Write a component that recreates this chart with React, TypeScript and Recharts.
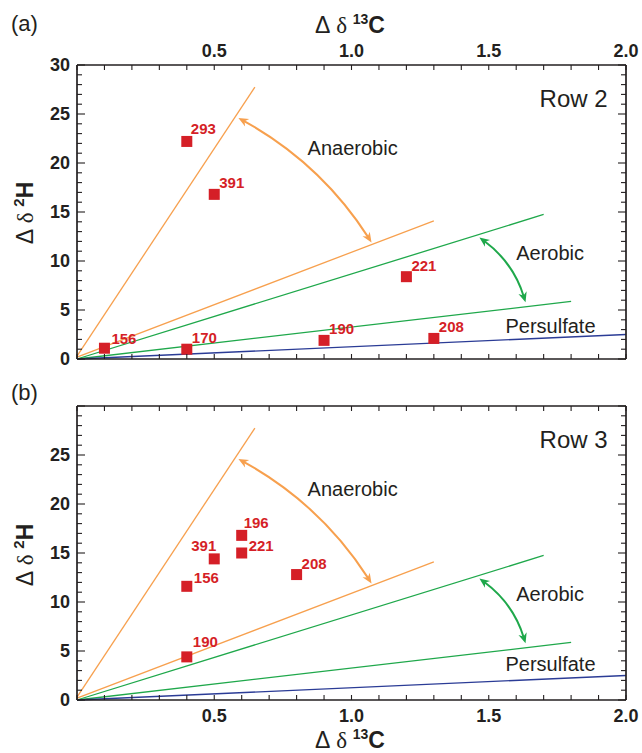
import React from 'react';
import { ComposedChart, XAxis, YAxis, Scatter, ReferenceLine, ReferenceDot } from 'recharts';

// axis ticks
const X_TICKS = [0, 0.1, 0.2, 0.3, 0.4, 0.5, 0.6, 0.7, 0.8, 0.9, 1.0, 1.1, 1.2, 1.3, 1.4, 1.5, 1.6, 1.7, 1.8, 1.9, 2.0];
const X_LABELS = [0.5, 1.0, 1.5, 2.0];
const Y_TICKS = [0, 1, 2, 3, 4, 5, 6, 7, 8, 9, 10, 11, 12, 13, 14, 15, 16, 17, 18, 19, 20, 21, 22, 23, 24, 25, 26, 27, 28, 29, 30];
const Y_LABELS_A = [0, 5, 10, 15, 20, 25, 30];
const Y_LABELS_B = [0, 5, 10, 15, 20, 25];

// panel (a), Row 2
const samplesA = ['156', '170', '293', '391', '190', '208', '221'];
const dC13A = [0.1, 0.4, 0.4, 0.5, 0.9, 1.3, 1.2];
const dH2A = [1.1, 1.0, 22.2, 16.8, 1.9, 2.1, 8.4];

// panel (b), Row 3
const samplesB = ['391', '156', '221', '196', '208', '190'];
const dC13B = [0.5, 0.4, 0.6, 0.6, 0.8, 0.4];
const dH2B = [14.4, 11.6, 15.0, 16.8, 12.8, 4.4];

// degradation trend lines, [start, end] as [dC, dH]
const anaerobicHigh = [[0, 0.3], [0.648, 27.75]];
const anaerobicLow = [[0, 0.2], [1.3, 14.1]];
const aerobicHigh = [[0, 0], [1.7, 14.75]];
const aerobicLow = [[0, 0], [1.8, 5.87]];
const persulfateLine = [[0, 0], [2.0, 2.5]];

// double arrows between the line pairs
const anaerobicArrow = [[0.588, 24.6], [1.073, 11.9]];
const aerobicArrow = [[1.466, 12.4], [1.634, 5.8]];

const INK = '#231f20';
const ORANGE = '#f7a04e';
const GREEN = '#1fa84b';
const BLUE = '#2b3c96';
const RED = '#d51f27';
const SANS = '"Liberation Sans", Arial, Helvetica, sans-serif';
const SERIF = '"Liberation Serif", "Times New Roman", serif';

const toPoints = (names: string[], xs: number[], ys: number[]) =>
  names.map((n, i) => ({ x: xs[i], y: ys[i], label: n }));

const seg = (p: number[][]) => [{ x: p[0][0], y: p[0][1] }, { x: p[1][0], y: p[1][1] }];

function XTick(props: any) {
  const { x, y, payload, side, showLabel } = props;
  const v = payload.value;
  const dir = side === 'top' ? 1 : -1;
  return (
    <g>
      <line x1={x} y1={y} x2={x} y2={y + dir * 5} stroke={INK} strokeWidth={1.1} />
      {showLabel && X_LABELS.includes(v) && (
        <text x={x} y={side === 'top' ? y - 8 : y + 22} textAnchor="middle" fontFamily={SANS} fontWeight="bold" fontSize={18} fill={INK}>
          {v.toFixed(1)}
        </text>
      )}
    </g>
  );
}

function YTick(props: any) {
  const { x, y, payload, side, labels } = props;
  const v = payload.value;
  const len = v % 5 === 0 ? 8 : 5;
  const dir = side === 'left' ? 1 : -1;
  return (
    <g>
      <line x1={x} y1={y} x2={x + dir * len} y2={y} stroke={INK} strokeWidth={1.1} />
      {labels && labels.includes(v) && (
        <text x={x - 7} y={y} dy="0.36em" textAnchor="end" fontFamily={SANS} fontWeight="bold" fontSize={18} fill={INK}>
          {v}
        </text>
      )}
    </g>
  );
}

function arrowHead(tx: number, ty: number, fx: number, fy: number) {
  const l = Math.hypot(tx - fx, ty - fy);
  const ax = (tx - fx) / l;
  const ay = (ty - fy) / l;
  const nx = -ay;
  const ny = ax;
  const L = 10;
  const W = 4.3;
  const bx = tx - ax * L;
  const by = ty - ay * L;
  const kx = tx - ax * L * 0.7;
  const ky = ty - ay * L * 0.7;
  return `M${tx},${ty} L${bx + nx * W},${by + ny * W} L${kx},${ky} L${bx - nx * W},${by - ny * W} Z`;
}

function ArcArrow(props: any) {
  const { x1, y1, x2, y2, bend, color } = props;
  const dx = x2 - x1;
  const dy = y2 - y1;
  const len = Math.hypot(dx, dy);
  const cx = (x1 + x2) / 2 + (bend * dy) / len;
  const cy = (y1 + y2) / 2 - (bend * dx) / len;
  const d1 = Math.hypot(cx - x1, cy - y1);
  const d2 = Math.hypot(cx - x2, cy - y2);
  const sx = x1 + ((cx - x1) / d1) * 6;
  const sy = y1 + ((cy - y1) / d1) * 6;
  const ex = x2 + ((cx - x2) / d2) * 6;
  const ey = y2 + ((cy - y2) / d2) * 6;
  return (
    <g>
      <path d={`M${sx},${sy} Q${cx},${cy} ${ex},${ey}`} fill="none" stroke={color} strokeWidth={2} />
      <path d={arrowHead(x1, y1, cx, cy)} fill={color} />
      <path d={arrowHead(x2, y2, cx, cy)} fill={color} />
    </g>
  );
}

// label nudges around the squares (pixels)
const nudgeA: Record<string, [number, number, string]> = {
  '156': [7, -4, 'start'],
  '293': [4, -7, 'start'],
};
const nudgeB: Record<string, [number, number, string]> = {
  '391': [2, -8, 'end'],
  '156': [7, -3, 'start'],
  '221': [7, -2, 'start'],
  '196': [2, -7, 'start'],
  '190': [6, -10, 'start'],
};

function Note(props: any) {
  const { cx, cy, text, size, anchor } = props;
  return (
    <text x={cx} y={cy} fontFamily={SANS} fontSize={size} fill={INK} textAnchor={anchor || 'start'}>
      {text}
    </text>
  );
}

function Panel(props: any) {
  const { points, yLabels, labelSide, margin, height, nudge, row, persulfateY } = props;
  const otherSide = labelSide === 'top' ? 'bottom' : 'top';
  return (
    <ComposedChart width={642} height={height} margin={margin}>
      <XAxis
        xAxisId={0}
        type="number"
        dataKey="x"
        domain={[0, 2]}
        ticks={X_TICKS}
        interval={0}
        allowDataOverflow
        orientation={labelSide}
        height={1}
        tickSize={0}
        tickMargin={0}
        tickLine={false}
        axisLine={{ stroke: INK, strokeWidth: 1.7 }}
        tick={(p: any) => <XTick {...p} side={labelSide} showLabel />}
      />
      <XAxis
        xAxisId="m"
        type="number"
        dataKey="x"
        domain={[0, 2]}
        ticks={X_TICKS}
        interval={0}
        allowDataOverflow
        orientation={otherSide}
        height={1}
        tickSize={0}
        tickMargin={0}
        tickLine={false}
        axisLine={{ stroke: INK, strokeWidth: 1.7 }}
        tick={(p: any) => <XTick {...p} side={otherSide} />}
      />
      <YAxis
        yAxisId={0}
        type="number"
        domain={[0, 30]}
        ticks={Y_TICKS}
        interval={0}
        allowDataOverflow
        width={1}
        tickSize={0}
        tickMargin={0}
        tickLine={false}
        axisLine={{ stroke: INK, strokeWidth: 1.7 }}
        tick={(p: any) => <YTick {...p} side="left" labels={yLabels} />}
      />
      <YAxis
        yAxisId="r"
        orientation="right"
        type="number"
        domain={[0, 30]}
        ticks={Y_TICKS}
        interval={0}
        allowDataOverflow
        width={1}
        tickSize={0}
        tickMargin={0}
        tickLine={false}
        axisLine={{ stroke: INK, strokeWidth: 1.7 }}
        tick={(p: any) => <YTick {...p} side="right" />}
      />
      <ReferenceLine segment={seg(anaerobicHigh)} stroke={ORANGE} strokeWidth={1.3} ifOverflow="visible" />
      <ReferenceLine segment={seg(anaerobicLow)} stroke={ORANGE} strokeWidth={1.3} ifOverflow="visible" />
      <ReferenceLine segment={seg(aerobicHigh)} stroke={GREEN} strokeWidth={1.3} ifOverflow="visible" />
      <ReferenceLine segment={seg(aerobicLow)} stroke={GREEN} strokeWidth={1.3} ifOverflow="visible" />
      <ReferenceLine segment={seg(persulfateLine)} stroke={BLUE} strokeWidth={1.3} ifOverflow="visible" />
      <ReferenceLine
        segment={seg(anaerobicArrow)}
        ifOverflow="visible"
        shape={(p: any) => <ArcArrow {...p} bend={23} color={ORANGE} />}
      />
      <ReferenceLine
        segment={seg(aerobicArrow)}
        ifOverflow="visible"
        shape={(p: any) => <ArcArrow {...p} bend={13} color={GREEN} />}
      />
      <ReferenceDot x={1.933} y={25.7} ifOverflow="visible" shape={(p: any) => <Note {...p} text={row} size={24} anchor="end" />} />
      <ReferenceDot x={0.84} y={20.8} ifOverflow="visible" shape={(p: any) => <Note {...p} text="Anaerobic" size={20} />} />
      <ReferenceDot x={1.6} y={10.1} ifOverflow="visible" shape={(p: any) => <Note {...p} text="Aerobic" size={20} />} />
      <ReferenceDot x={1.561} y={persulfateY} ifOverflow="visible" shape={(p: any) => <Note {...p} text="Persulfate" size={20} />} />
      <Scatter
        data={points}
        dataKey="y"
        isAnimationActive={false}
        shape={(p: any) => {
          const n = nudge[p.payload.label] || [5, -6, 'start'];
          return (
            <g>
              <rect x={p.cx - 5.5} y={p.cy - 5.5} width={11} height={11} fill={RED} />
              <text x={p.cx + n[0]} y={p.cy + n[1]} textAnchor={n[2]} fontFamily={SANS} fontWeight="bold" fontSize={15} fill={RED}>
                {p.payload.label}
              </text>
            </g>
          );
        }}
      />
    </ComposedChart>
  );
}

function CarbonTitle({ x, y }: { x: number; y: number }) {
  return (
    <text x={x} y={y} textAnchor="middle" fontSize={23} fill={INK}>
      <tspan fontFamily={SANS}>Δ</tspan>
      <tspan fontFamily={SERIF}> δ </tspan>
      <tspan fontFamily={SANS} fontWeight="bold" fontSize={14} dy={-9}>13</tspan>
      <tspan fontFamily={SANS} fontWeight="bold" dy={9}>C</tspan>
    </text>
  );
}

function HydrogenTitle({ x, y }: { x: number; y: number }) {
  return (
    <text transform={`translate(${x},${y}) rotate(-90)`} textAnchor="middle" fontSize={23} fill={INK}>
      <tspan fontFamily={SANS}>Δ</tspan>
      <tspan fontFamily={SERIF}> δ </tspan>
      <tspan fontFamily={SANS} fontWeight="bold" fontSize={15} dy={-9}>2</tspan>
      <tspan fontFamily={SANS} fontWeight="bold" dy={9}>H</tspan>
    </text>
  );
}

export default function App() {
  const pointsA = toPoints(samplesA, dC13A, dH2A);
  const pointsB = toPoints(samplesB, dC13B, dH2B);
  return (
    <div style={{ position: 'absolute', left: 0, top: 0, width: 642, height: 753, background: '#fff' }}>
      <div style={{ position: 'absolute', left: 0, top: 0 }}>
        <Panel
          points={pointsA}
          yLabels={Y_LABELS_A}
          labelSide="top"
          height={380}
          margin={{ top: 64, right: 15, bottom: 20, left: 76 }}
          nudge={nudgeA}
          row="Row 2"
          persulfateY={2.65}
        />
      </div>
      <div style={{ position: 'absolute', left: 0, top: 380 }}>
        <Panel
          points={pointsB}
          yLabels={Y_LABELS_B}
          labelSide="bottom"
          height={373}
          margin={{ top: 25, right: 15, bottom: 52, left: 76 }}
          nudge={nudgeB}
          row="Row 3"
          persulfateY={2.95}
        />
      </div>
      <svg width={642} height={753} style={{ position: 'absolute', left: 0, top: 0, pointerEvents: 'none' }}>
        <text x={11} y={31} fontFamily={SANS} fontSize={22} fill={INK}>(a)</text>
        <text x={11} y={400} fontFamily={SANS} fontSize={22} fill={INK}>(b)</text>
        <CarbonTitle x={350} y={33} />
        <CarbonTitle x={350} y={748} />
        <HydrogenTitle x={33} y={213} />
        <HydrogenTitle x={33} y={555} />
      </svg>
    </div>
  );
}
